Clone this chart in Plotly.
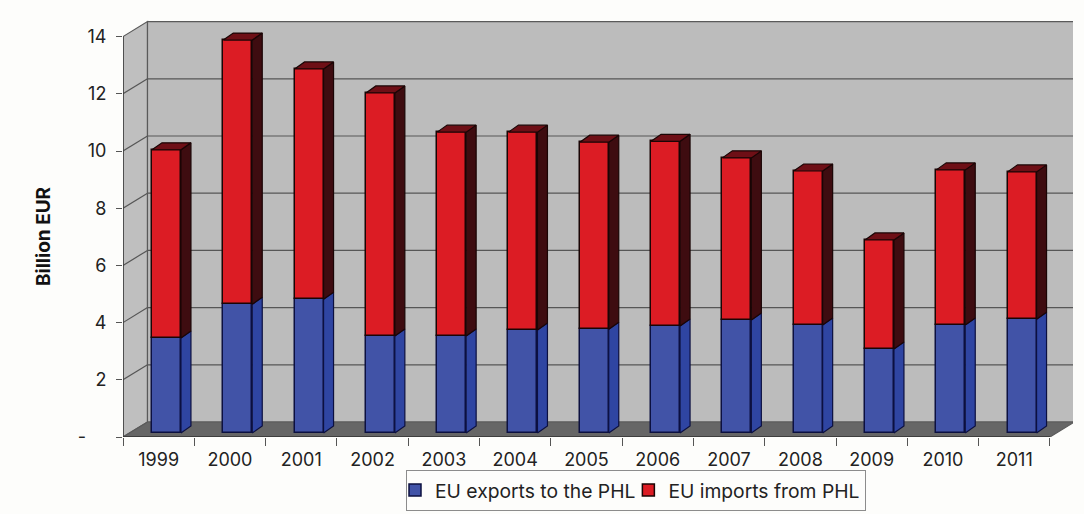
import plotly.graph_objects as go

# Trade values in billion EUR
years = ["1999", "2000", "2001", "2002", "2003", "2004", "2005", "2006", "2007", "2008", "2009", "2010", "2011"]
exports = [3.32, 4.50, 4.68, 3.39, 3.39, 3.60, 3.63, 3.74, 3.95, 3.78, 2.94, 3.78, 3.98]
imports = [6.58, 9.24, 8.05, 8.50, 7.13, 6.92, 6.54, 6.46, 5.67, 5.38, 3.81, 5.42, 5.15]
y_ticks = [0, 2, 4, 6, 8, 10, 12, 14]
y_tick_text = ["-\u00a0\u00a0\u00a0\u00a0", "2", "4", "6", "8", "10", "12", "14"]

FONT = "Inter"
N = len(years)
V_MAX = y_ticks[-1]

# Oblique projection: the depth axis runs from 0 (front) to 1 (back wall)
PX_PER_CAT = 71.3
PX_PER_UNIT = 28.6
DEPTH_X = 24.5 / PX_PER_CAT
DEPTH_Y = 15 / PX_PER_UNIT

# Bar solids: front face size, where it sits, and how far the sides recede
BAR_WIDTH = 29 / PX_PER_CAT
BAR_FRONT_OFFSET_X = 7.8 / PX_PER_CAT
BAR_FRONT_LIFT = 4 / PX_PER_UNIT
BAR_SIDE_X = 10 / PX_PER_CAT
BAR_SIDE_Y = 7 / PX_PER_UNIT


def project(cat, value, depth):
    return cat + depth * DEPTH_X, value + depth * DEPTH_Y


def polygon(points):
    return "M" + "L".join(f"{x:.4f},{y:.4f}" for x, y in points) + "Z"


def wall(points, fill):
    return dict(type="path", path=polygon(points), fillcolor=fill, layer="below",
                line=dict(color="#5a5a5a", width=1.2))


def seg(a, b, color="#565656", width=1.2):
    return dict(type="line", x0=a[0], y0=a[1], x1=b[0], y1=b[1], layer="below",
                line=dict(color=color, width=width))


# Chart box: left wall, back wall, floor and the grid running over them
shapes = [
    wall([project(0, 0, 0), project(0, V_MAX, 0), project(0, V_MAX, 1), project(0, 0, 1)], "#bfbfbf"),
    wall([project(0, 0, 1), project(0, V_MAX, 1), project(N, V_MAX, 1), project(N, 0, 1)], "#bcbcbc"),
    wall([project(0, 0, 0), project(0, 0, 1), project(N, 0, 1), project(N, 0, 0)], "#666666"),
]
for v in y_ticks[1:-1]:
    shapes.append(seg(project(0, v, 0), project(0, v, 1)))
    shapes.append(seg(project(0, v, 1), project(N, v, 1)))
shapes.append(seg(project(0, 0, 0), project(0, V_MAX, 0), "#333333", 1.3))
shapes.append(seg(project(0, 0, 0), project(N, 0, 0), "#333333", 1.3))

bar_x = [i + 0.5 + BAR_FRONT_OFFSET_X for i in range(N)]


def ring(xs, ys, corners):
    xs += [c[0] for c in corners] + [corners[0][0], None]
    ys += [c[1] for c in corners] + [corners[0][1], None]


def side_path(bottoms, tops):
    xs, ys = [], []
    for i in range(N):
        right = bar_x[i] + BAR_WIDTH / 2
        low, high = bottoms[i] + BAR_FRONT_LIFT, tops[i] + BAR_FRONT_LIFT
        ring(xs, ys, [(right, low), (right, high),
                      (right + BAR_SIDE_X, high + BAR_SIDE_Y), (right + BAR_SIDE_X, low + BAR_SIDE_Y)])
    return xs, ys


def top_path(tops):
    xs, ys = [], []
    for i in range(N):
        left, right = bar_x[i] - BAR_WIDTH / 2, bar_x[i] + BAR_WIDTH / 2
        high = tops[i] + BAR_FRONT_LIFT
        ring(xs, ys, [(left, high), (right, high),
                      (right + BAR_SIDE_X, high + BAR_SIDE_Y), (left + BAR_SIDE_X, high + BAR_SIDE_Y)])
    return xs, ys


zeros = [0.0] * N
totals = [e + m for e, m in zip(exports, imports)]

fig = go.Figure()
fig.add_bar(x=bar_x, y=exports, base=[BAR_FRONT_LIFT] * N, width=BAR_WIDTH, name="EU exports to the PHL",
            marker=dict(color="#4153a7", line=dict(color="#0c1040", width=1.5)))
fig.add_bar(x=bar_x, y=imports, base=[BAR_FRONT_LIFT + e for e in exports], width=BAR_WIDTH,
            name="EU imports from PHL",
            marker=dict(color="#dc1c24", line=dict(color="#1a0505", width=1.5)))

sx, sy = side_path(zeros, exports)
fig.add_scatter(x=sx, y=sy, mode="lines", fill="toself", fillcolor="#2f45a2",
                line=dict(color="#0c1040", width=1.2), showlegend=False, hoverinfo="skip")
sx, sy = side_path(exports, totals)
fig.add_scatter(x=sx, y=sy, mode="lines", fill="toself", fillcolor="#3e0c10",
                line=dict(color="#1a0505", width=1.2), showlegend=False, hoverinfo="skip")
tx, ty = top_path(totals)
fig.add_scatter(x=tx, y=ty, mode="lines", fill="toself", fillcolor="#6e0f16",
                line=dict(color="#1a0505", width=1.2), showlegend=False, hoverinfo="skip")

fig.update_layout(
    width=1084, height=514, autosize=False,
    margin=dict(l=123, r=11, t=20, b=77, autoexpand=False),
    paper_bgcolor="#fdfdfb", plot_bgcolor="rgba(0,0,0,0)",
    barmode="overlay", bargap=0, shapes=shapes,
    font=dict(family=FONT, color="#222222", size=16),
    legend=dict(orientation="h", x=0.54, xanchor="center", y=-0.079, yanchor="top",
                bgcolor="rgba(0,0,0,0)", bordercolor="#8c8c8c", borderwidth=1,
                indentation=-12,
                font=dict(family=FONT, size=19.3, color="#222222"),
                tracegroupgap=0, itemclick=False),
    xaxis=dict(range=[0, 950 / PX_PER_CAT], showgrid=False, zeroline=False, showline=False,
               tickmode="array", tickvals=[i + 0.5 for i in range(N)], ticktext=years,
               ticks="", tickfont=dict(size=18, family=FONT), ticklabelstandoff=10,
               minor=dict(tickmode="array", tickvals=list(range(N + 1)), ticks="outside",
                          ticklen=8, tickcolor="#555555", tickwidth=1, showgrid=False)),
    yaxis=dict(range=[0, 417 / PX_PER_UNIT], showgrid=False, zeroline=False, showline=False,
               tickmode="array", tickvals=y_ticks, ticktext=y_tick_text,
               ticks="outside", ticklen=6, tickcolor="#555555", tickwidth=1, ticklabelstandoff=6,
               tickfont=dict(size=18, family=FONT)),
    annotations=[dict(text="<b>Billion EUR</b>", textangle=-90, showarrow=False,
                      xref="paper", yref="paper", xanchor="center", yanchor="middle",
                      x=(43 - 123) / 950, y=(437 - 236) / 417,
                      font=dict(size=19, family=FONT, color="#111111"))],
)

fig.write_html("out.html")
